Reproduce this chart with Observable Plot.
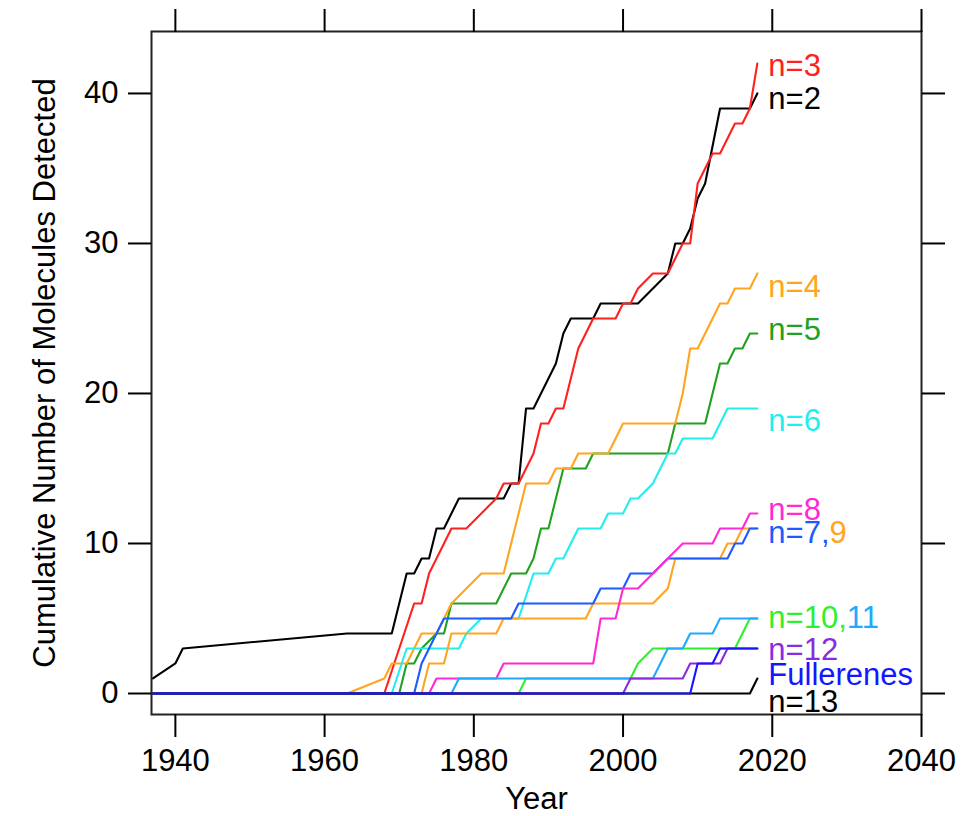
<!DOCTYPE html>
<html>
<head>
<meta charset="utf-8">
<script src="https://cdn.jsdelivr.net/npm/d3@7"></script>
<script src="https://cdn.jsdelivr.net/npm/@observablehq/plot@0.6"></script>
<style>
  html, body { margin: 0; padding: 0; background: #ffffff; }
</style>
</head>
<body>
<div id="chart"></div>
<script>
// ---- data ----
const years_n2  = [1937,1940,1941,1963,1969,1971,1972,1973,1974,1975,1976,1978,1984,1985,1986,1987,1988,1991,1992,1993,1996,1997,2002,2006,2007,2008,2009,2010,2011,2013,2017,2018];
const values_n2 = [1,2,3,4,4,8,8,9,9,11,11,13,13,14,14,19,19,22,24,25,25,26,26,28,30,30,31,33,34,39,39,40];

const years_n3  = [1937,1968,1970,1972,1973,1974,1975,1977,1979,1983,1984,1986,1988,1989,1990,1991,1992,1994,1996,1999,2000,2001,2002,2004,2006,2008,2009,2010,2012,2013,2015,2016,2017,2018];
const values_n3 = [0,0,3,6,6,8,9,11,11,13,14,14,16,18,18,19,19,23,25,25,26,26,27,28,28,30,30,34,36,36,38,38,39,42];

const years_n4  = [1937,1963,1968,1969,1971,1973,1975,1977,1979,1981,1984,1987,1990,1991,1993,1994,1998,2000,2007,2008,2009,2010,2013,2014,2015,2017,2018];
const values_n4 = [0,0,1,2,2,4,4,6,7,8,8,14,14,15,15,16,16,18,18,20,23,23,26,26,27,27,28];

const years_n5  = [1937,1970,1971,1972,1973,1975,1976,1977,1983,1985,1987,1988,1989,1990,1992,1995,1996,2006,2007,2011,2013,2014,2015,2016,2017,2018];
const values_n5 = [0,0,2,2,3,4,4,6,6,8,8,9,11,11,15,15,16,16,18,18,22,22,23,23,24,24];

const years_n6  = [1937,1969,1971,1978,1979,1981,1986,1988,1990,1991,1992,1994,1997,1998,2000,2001,2002,2004,2005,2006,2007,2008,2012,2014,2018];
const values_n6 = [0,0,3,3,4,5,5,8,8,9,9,11,11,12,12,13,13,14,15,16,16,17,17,19,19];

const years_n7  = [1937,1972,1973,1975,1976,1985,1986,1996,1997,2000,2001,2004,2006,2014,2015,2016,2017,2018];
const values_n7 = [0,0,2,4,5,5,6,6,7,7,8,8,9,9,10,10,11,11];

const years_n8  = [1937,1974,1975,1983,1984,1996,1997,1999,2000,2002,2006,2008,2012,2013,2016,2017,2018];
const values_n8 = [0,0,1,1,2,2,5,5,7,7,9,10,10,11,11,12,12];

const years_n9  = [1937,1973,1974,1976,1977,1983,1984,1995,1996,2004,2006,2007,2013,2014,2015,2016,2018];
const values_n9 = [0,0,2,2,4,4,5,5,6,6,7,9,9,10,10,11,11];

const years_n10  = [1937,1986,1987,2001,2002,2004,2015,2017,2018];
const values_n10 = [0,0,1,1,2,3,3,5,5];

const years_n11  = [1937,1977,1978,2004,2006,2008,2009,2012,2013,2018];
const values_n11 = [0,0,1,1,3,3,4,4,5,5];

const years_n12  = [1937,2000,2001,2008,2009,2013,2014,2018];
const values_n12 = [0,0,1,1,2,2,3,3];

const years_n13  = [1937,2017,2018];
const values_n13 = [0,0,1];

const years_full  = [1937,2009,2010,2012,2013,2018];
const values_full = [0,0,2,2,3,3];

const xTicks = [1940,1960,1980,2000,2020,2040];
const yTicks = [0,10,20,30,40];

const xTitle = "Year";
const yTitle = "Cumulative Number of Molecules Detected";

// ---- styling ----
const C = {
  n2: "#000000", n3: "#ff2020", n4: "#ffa520", n5: "#22a022", n6: "#22eeee",
  n7: "#1e5aff", n8: "#ff2ad4", n9: "#ffa520", n10: "#2ef02e", n11: "#20aaff",
  n12: "#8a2be2", n13: "#000000", full: "#1515ff"
};

// drawing order (last is on top)
const series = [
  {name: "n=2",  years: years_n2,  values: values_n2,  color: C.n2},
  {name: "n=3",  years: years_n3,  values: values_n3,  color: C.n3},
  {name: "n=5",  years: years_n5,  values: values_n5,  color: C.n5},
  {name: "n=4",  years: years_n4,  values: values_n4,  color: C.n4},
  {name: "n=6",  years: years_n6,  values: values_n6,  color: C.n6},
  {name: "n=9",  years: years_n9,  values: values_n9,  color: C.n9},
  {name: "n=7",  years: years_n7,  values: values_n7,  color: C.n7},
  {name: "n=8",  years: years_n8,  values: values_n8,  color: C.n8},
  {name: "n=10", years: years_n10, values: values_n10, color: C.n10},
  {name: "n=11", years: years_n11, values: values_n11, color: C.n11},
  {name: "n=12", years: years_n12, values: values_n12, color: C.n12},
  {name: "n=13", years: years_n13, values: values_n13, color: C.n13},
  {name: "Fullerenes", years: years_full, values: values_full, color: C.full}
];

const rows = series.flatMap(s => s.years.map((yr, i) => ({series: s.name, year: yr, value: s.values[i]})));

// end labels: anchored at the last point of a series, nudged in pixels
const labels = [
  {anchor: "n=3",  parts: [["n=3", C.n3]], dy: 3},
  {anchor: "n=2",  parts: [["n=2", C.n2]], dy: 6},
  {anchor: "n=4",  parts: [["n=4", C.n4]], dy: 14},
  {anchor: "n=5",  parts: [["n=5", C.n5]], dy: -3},
  {anchor: "n=6",  parts: [["n=6", C.n6]], dy: 13},
  {anchor: "n=8",  parts: [["n=8", C.n8]], dy: -3},
  {anchor: "n=7",  parts: [["n=7,", C.n7], ["9", C.n9]], dy: 5},
  {anchor: "n=10", parts: [["n=10,", C.n10], ["11", C.n11]], dy: 0},
  {anchor: "n=12", parts: [["n=12", C.n12]], dy: 2},
  {anchor: "Fullerenes", parts: [["Fullerenes", C.full]], dy: 27},
  {anchor: "n=13", parts: [["n=13", C.n13]], dy: 24}
];

const FONT = "'Liberation Sans', Arial, Helvetica, sans-serif";
const FS = 31;

const labelMarks = labels.map(l => {
  const s = series.find(d => d.name === l.anchor);
  const datum = {
    year: s.years[s.years.length - 1],
    value: s.values[s.values.length - 1],
    text: l.parts.map(p => p[0]).join("")
  };
  return Plot.text([datum], {
    x: "year", y: "value", text: "text",
    textAnchor: "start", dx: 11, dy: l.dy,
    fill: l.parts[0][1], fontSize: FS, fontFamily: FONT
  });
});

const svg = Plot.plot({
  width: 979,
  height: 816,
  marginLeft: 151,
  marginRight: 58,
  marginTop: 31,
  marginBottom: 102,
  style: {fontFamily: FONT, fontSize: FS + "px", background: "#ffffff", color: "#000000", overflow: "visible"},
  x: {domain: [1936.8, 2040]},
  y: {domain: [-1.4, 44.13]},
  color: {domain: series.map(s => s.name), range: series.map(s => s.color)},
  marks: [
    Plot.line(rows, {x: "year", y: "value", z: "series", stroke: "series", strokeWidth: 2.1}),
    Plot.frame({stroke: "#222222", strokeWidth: 2}),
    Plot.axisX({ticks: xTicks, anchor: "bottom", tickSize: 23, tickPadding: 11, strokeWidth: 2, label: null, tickFormat: d => String(d), fontSize: FS}),
    Plot.axisX({ticks: xTicks, anchor: "top", tickSize: 23, strokeWidth: 2, label: null, tickFormat: () => ""}),
    Plot.axisY({ticks: yTicks, anchor: "left", tickSize: 23, tickPadding: 10, strokeWidth: 2, label: null, tickFormat: d => String(d), fontSize: FS}),
    Plot.axisY({ticks: yTicks, anchor: "right", tickSize: 23, strokeWidth: 2, label: null, tickFormat: () => ""}),
    Plot.text([xTitle], {text: d => d, frameAnchor: "bottom", textAnchor: "middle", dy: 94, fontSize: FS, fontFamily: FONT, fill: "#000"}),
    Plot.text([yTitle], {text: d => d, frameAnchor: "left", textAnchor: "middle", rotate: -90, dx: -106, fontSize: FS, fontFamily: FONT, fill: "#000"}),
    ...labelMarks
  ]
});

// split multi-coloured labels into tspans
labels.filter(l => l.parts.length > 1).forEach(l => {
  const full = l.parts.map(p => p[0]).join("");
  d3.select(svg).selectAll("text").each(function() {
    if (this.textContent === full) {
      const t = d3.select(this);
      t.text(null);
      l.parts.forEach(p => t.append("tspan").attr("fill", p[1]).text(p[0]));
    }
  });
});

document.getElementById("chart").appendChild(svg);
</script>
</body>
</html>
